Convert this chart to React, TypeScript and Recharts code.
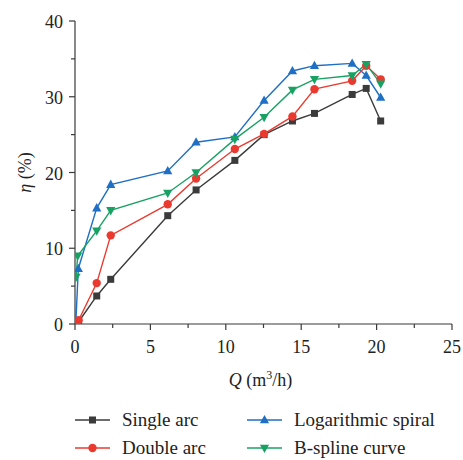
import React from "react";
import { LineChart, Line, XAxis, YAxis, Legend } from "recharts";

// flow rate points shared by the four impellers (m3/h)
const flowQ = [0.22, 1.44, 2.37, 6.15, 8.03, 10.6, 12.54, 14.42, 15.88, 18.38, 19.31, 20.27];

const singleArcQ = [0.24, ...flowQ.slice(1)];
const singleArcEta = [0.3, 3.7, 5.9, 14.3, 17.7, 21.6, 25.0, 26.8, 27.8, 30.3, 31.1, 26.8];

const doubleArcQ = [0.24, ...flowQ.slice(1)];
const doubleArcEta = [0.5, 5.4, 11.7, 15.8, 19.2, 23.1, 25.1, 27.4, 31.0, 32.1, 34.1, 32.3];

const logSpiralQ = [0.05, ...flowQ];
const logSpiralEta = [0, 7.3, 15.3, 18.4, 20.2, 24.0, 24.7, 29.5, 33.4, 34.1, 34.4, 32.8, 29.9];

const bSplineQ = [0.07, 0.18, ...flowQ.slice(1)];
const bSplineEta = [6.2, 9.0, 12.3, 15.0, 17.3, 20.0, 24.4, 27.3, 30.9, 32.3, 32.8, 34.3, 31.7];

const xTicks = [0, 2.5, 5, 7.5, 10, 12.5, 15, 17.5, 20, 22.5, 25];
const yTicks = [0, 5, 10, 15, 20, 25, 30, 35, 40];

const toPoints = (qs: number[], etas: number[]) => qs.map((q, i) => ({ q, eta: etas[i] }));

const FONT = "'Liberation Serif', 'DejaVu Serif', serif";
const AXIS = "#3a3a3a";
const txt = { fontFamily: FONT, fill: "#222" };

type Shape = "square" | "circle" | "up" | "down";

const series = [
  { name: "Single arc", color: "#3b3b3b", shape: "square" as Shape, data: toPoints(singleArcQ, singleArcEta) },
  { name: "Logarithmic spiral", color: "#1f6fc4", shape: "up" as Shape, data: toPoints(logSpiralQ, logSpiralEta) },
  { name: "Double arc", color: "#ea3a30", shape: "circle" as Shape, data: toPoints(doubleArcQ, doubleArcEta) },
  { name: "B-spline curve", color: "#17a263", shape: "down" as Shape, data: toPoints(bSplineQ, bSplineEta) },
];

function Marker({ cx, cy, shape, color }: { cx: number; cy: number; shape: Shape; color: string }) {
  if (cx == null || cy == null) return null;
  if (shape === "square") return <rect x={cx - 3.5} y={cy - 3.5} width={7} height={7} fill={color} />;
  if (shape === "circle") return <circle cx={cx} cy={cy} r={4.2} fill={color} />;
  if (shape === "up")
    return <polygon points={`${cx},${cy - 5} ${cx - 4.6},${cy + 3.3} ${cx + 4.6},${cy + 3.3}`} fill={color} />;
  return <polygon points={`${cx},${cy + 5} ${cx - 4.6},${cy - 3.3} ${cx + 4.6},${cy - 3.3}`} fill={color} />;
}

const XTick = (props: any) => {
  const { x, y, payload } = props;
  const major = payload.value % 5 === 0;
  return (
    <g>
      <line x1={x} x2={x} y1={y} y2={y + (major ? 6 : 4)} stroke={AXIS} strokeWidth={1.2} />
      {major && (
        <text x={x} y={y + 29} textAnchor="middle" fontSize={18} style={txt}>
          {payload.value}
        </text>
      )}
    </g>
  );
};

const YTick = (props: any) => {
  const { x, y, payload } = props;
  const major = payload.value % 10 === 0;
  return (
    <g>
      <line x1={x} x2={x - (major ? 6 : 4)} y1={y} y2={y} stroke={AXIS} strokeWidth={1.2} />
      {major && (
        <text x={x - 12} y={y + 7} textAnchor="end" fontSize={18} style={txt}>
          {payload.value}
        </text>
      )}
    </g>
  );
};

const XTitle = (props: any) => {
  const { viewBox } = props;
  const cx = viewBox.x + viewBox.width / 2 - 3;
  return (
    <text x={cx} y={viewBox.y + 62} textAnchor="middle" fontSize={18} style={txt}>
      <tspan fontStyle="italic">Q</tspan>
      <tspan> (m</tspan>
      <tspan fontSize={12} dy={-7}>3</tspan>
      <tspan dy={7}>/h)</tspan>
    </text>
  );
};

const YTitle = (props: any) => {
  const { viewBox } = props;
  const cy = viewBox.y + viewBox.height / 2;
  return (
    <text x={31} y={cy} transform={`rotate(-90, 31, ${cy})`} textAnchor="middle" fontSize={18} style={txt}>
      <tspan fontStyle="italic">η</tspan>
      <tspan> (%)</tspan>
    </text>
  );
};

const legendPos = [
  { x: 75, y: 420 },
  { x: 247, y: 420 },
  { x: 75, y: 448 },
  { x: 247, y: 448 },
];

const renderLegend = () => (
  <svg width={463} height={60} style={{ position: "absolute", left: 0, top: 0, overflow: "visible" }}>
    {series.map((s, i) => {
      const p = legendPos[i];
      const ly = p.y - 400;
      return (
        <g key={s.name}>
          <line x1={p.x} x2={p.x + 35} y1={ly} y2={ly} stroke={s.color} strokeWidth={1.6} />
          <Marker cx={p.x + 17.5} cy={ly} shape={s.shape} color={s.color} />
          <text x={p.x + 47} y={ly + 6} fontSize={19} style={txt}>
            {s.name}
          </text>
        </g>
      );
    })}
  </svg>
);

export default function App() {
  return (
    <div style={{ position: "absolute", left: 0, top: 0, width: 463, height: 460, background: "#fff" }}>
      <LineChart width={463} height={460} margin={{ top: 21, right: 11, left: 0, bottom: 0 }}>
        <XAxis
          type="number"
          dataKey="q"
          domain={[0, 25]}
          ticks={xTicks}
          interval={0}
          height={136}
          tickSize={0}
          tickMargin={0}
          tickLine={false}
          tick={<XTick />}
          axisLine={{ stroke: AXIS, strokeWidth: 1.2 }}
          label={{ content: <XTitle /> }}
          allowDataOverflow
        />
        <YAxis
          type="number"
          domain={[0, 40]}
          ticks={yTicks}
          interval={0}
          width={75}
          tickSize={0}
          tickMargin={0}
          tickLine={false}
          tick={<YTick />}
          axisLine={{ stroke: AXIS, strokeWidth: 1.2 }}
          label={{ content: <YTitle /> }}
          allowDataOverflow
        />
        {series.map((s) => (
          <Line
            key={s.name}
            data={s.data}
            dataKey="eta"
            name={s.name}
            stroke={s.color}
            strokeWidth={1.4}
            isAnimationActive={false}
            dot={(p: any) => <Marker key={`${s.name}-${p.index}`} cx={p.cx} cy={p.cy} shape={s.shape} color={s.color} />}
            activeDot={false}
          />
        ))}
        <Legend
          content={renderLegend}
          wrapperStyle={{ position: "absolute", left: 0, top: 400, width: 463, height: 0 }}
        />
      </LineChart>
    </div>
  );
}
